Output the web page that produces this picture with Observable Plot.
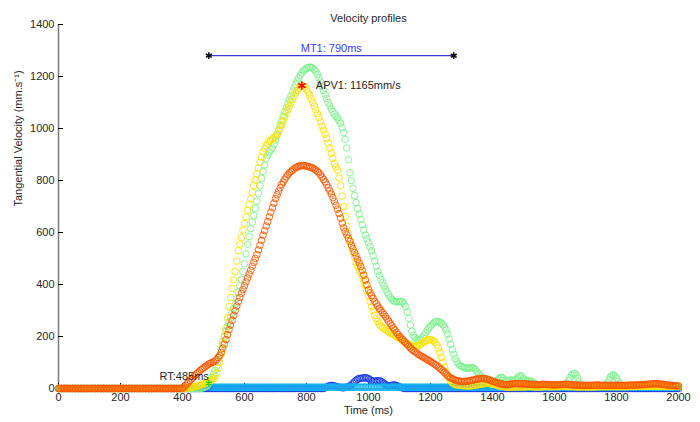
<!DOCTYPE html>
<html>
<head>
<meta charset="utf-8">
<script src="https://cdn.jsdelivr.net/npm/d3@7"></script>
<script src="https://cdn.jsdelivr.net/npm/@observablehq/plot@0.6"></script>
<style>
  html, body { margin: 0; padding: 0; background: #fff; }
</style>
</head>
<body>
<div id="chart"></div>
<script>
// Tangential velocity (mm/s) sampled every 5 ms, 0..2000 ms (401 samples per trial).
const sampleStepMs = 5;
const timeMs = d3.range(0, 2001, sampleStepMs);

const trialOrange = [
  0,0,0,0,0,0,0,0,0,0,0,0,0,0,0,0,0,0,0,0,
  0,0,0,0,0,0,0,0,0,0,0,0,0,0,0,0,0,0,0,0,
  0,0,0,0,0,0,0,0,0,0,0,0,0,0,0,0,0,0,0,0,
  0,0,0,0,0,0,0,0,0,0,0,0,0,0,0,0,0,0,0,0,
  0,6,12,19,25,31,38,44,50,56,61,67,72,77,82,86,90,94,97,100,
  102,106,111,119,128,140,155,170,188,207,226,244,262,281,299,317,334,350,366,381,
  395,410,425,440,455,470,485,500,515,533,551,570,590,607,625,642,660,678,695,713,
  730,745,759,772,785,795,805,814,822,829,835,840,845,849,852,855,856,857,858,857,
  855,854,852,850,848,844,840,835,830,822,813,804,795,784,772,760,748,734,720,705,
  690,673,655,636,618,604,591,578,565,551,537,523,510,496,483,469,455,436,418,399,
  380,368,357,346,335,326,317,308,300,292,284,276,268,259,250,242,233,225,216,208,
  200,194,188,181,175,169,162,156,150,146,141,137,132,128,125,121,118,114,111,107,
  104,100,96,92,88,83,78,73,68,62,56,50,45,41,38,35,32,30,29,28,
  27,27,27,28,28,29,31,32,33,35,36,37,38,38,38,38,37,35,33,30,
  28,26,24,22,20,18,17,16,15,15,15,16,17,18,19,19,19,18,18,18,
  18,18,17,17,16,16,16,15,15,15,15,15,16,16,16,15,15,15,14,14,
  14,14,14,15,15,15,16,16,16,15,15,14,14,13,13,13,13,12,12,12,
  12,12,12,12,12,12,13,13,13,13,12,12,12,12,12,12,12,12,12,12,
  12,12,12,12,12,12,12,12,13,13,13,13,13,14,14,14,15,15,15,16,
  16,17,17,18,18,18,18,18,17,17,16,15,14,13,13,12,12,11,11,10,
  10
];

const trialYellow = [
  0,0,0,0,0,0,0,0,0,0,0,0,0,0,0,0,0,0,0,0,
  0,0,0,0,0,0,0,0,0,0,0,0,0,0,0,0,0,0,0,0,
  0,0,0,0,0,0,0,0,0,0,0,0,0,0,0,0,0,0,0,0,
  0,0,0,0,0,0,0,0,0,0,0,0,0,0,0,0,0,0,0,0,
  0,1,2,2,3,4,5,6,8,9,10,12,15,17,19,21,24,27,30,34,
  38,47,60,78,100,133,170,200,230,272,315,350,385,418,450,490,530,555,580,608,
  635,660,685,708,730,755,780,803,825,848,870,890,910,923,935,943,950,955,960,965,
  970,979,990,1002,1015,1030,1045,1059,1073,1087,1100,1113,1125,1137,1147,1155,1162,1165,1163,1158,
  1150,1140,1128,1114,1100,1086,1072,1057,1042,1026,1010,994,978,962,945,925,905,885,865,852,
  840,810,780,740,700,662,625,597,570,547,525,505,485,470,455,445,433,415,395,375,
  355,335,315,298,282,269,258,248,240,235,230,226,222,218,214,211,208,204,200,196,
  192,188,184,180,176,173,170,167,164,162,162,163,165,168,171,176,180,184,187,188,
  188,186,183,177,168,156,140,120,100,82,65,50,38,29,22,18,15,14,13,12,
  12,11,11,10,10,10,10,11,12,13,14,15,16,17,18,19,20,20,20,19,
  18,16,14,12,10,9,8,7,6,6,5,5,5,5,6,6,6,6,6,6,
  6,6,7,7,7,7,7,6,6,6,6,6,6,7,7,7,7,7,7,7,
  7,7,7,7,8,8,8,8,8,7,7,7,7,7,6,6,6,6,6,6,
  6,6,6,6,6,6,6,7,7,7,7,7,7,7,7,7,7,7,7,7,
  7,7,7,7,7,7,7,8,8,8,8,8,8,9,9,9,9,9,9,9,
  9,9,9,9,9,9,9,9,9,8,8,8,8,8,8,8,8,8,8,8,
  8
];

const trialGreen = [
  0,0,0,0,0,0,0,0,0,0,0,0,0,0,0,0,0,0,0,0,
  0,0,0,0,0,0,0,0,0,0,0,0,0,0,0,0,0,0,0,0,
  0,0,0,0,0,0,0,0,0,0,0,0,0,0,0,0,0,0,0,0,
  0,0,0,0,0,0,0,0,0,0,0,0,0,0,0,0,0,0,0,0,
  0,0,0,0,0,0,0,0,0,0,0,0,1,2,4,7,11,20,30,42,
  55,70,85,104,125,152,180,200,220,238,255,272,290,307,325,347,370,395,420,450,
  480,518,555,585,615,640,665,692,720,750,780,808,835,860,885,898,910,918,925,940,
  955,975,995,1012,1030,1048,1065,1080,1095,1110,1125,1140,1155,1169,1183,1194,1205,1214,1222,1227,
  1232,1234,1236,1235,1233,1227,1220,1208,1195,1179,1162,1146,1130,1115,1100,1087,1075,1065,1055,1047,
  1040,1030,1020,1003,985,958,925,880,830,800,770,742,715,692,670,650,630,610,590,575,
  560,545,530,510,490,470,450,435,420,407,395,382,370,360,350,344,338,335,333,334,
  335,335,333,326,315,295,270,244,220,205,195,189,185,186,190,197,205,215,225,233,
  240,246,252,256,258,257,255,251,245,236,225,209,190,170,150,132,115,104,95,89,
  85,82,80,78,78,79,80,80,78,72,65,57,50,45,40,35,30,25,20,17,
  15,19,25,32,38,42,43,38,32,30,30,31,33,32,30,34,40,46,49,46,
  38,32,28,28,30,28,25,20,15,12,10,9,9,10,11,12,12,12,11,10,
  10,10,10,10,11,12,13,15,20,30,42,52,57,58,52,40,26,16,11,9,
  8,8,8,8,8,8,8,9,9,9,10,11,12,15,22,33,44,50,52,48,
  40,28,18,12,9,8,8,8,8,8,8,8,8,8,8,8,8,8,8,8,
  8,8,8,8,8,8,8,8,8,8,8,8,8,8,8,8,8,8,8,8,
  8
];

const trialBlue = [
  0,0,0,0,0,0,0,0,0,0,0,0,0,0,0,0,0,0,0,0,
  0,0,0,0,0,0,0,0,0,0,0,0,0,0,0,0,0,0,0,0,
  0,0,0,0,0,0,0,0,0,0,0,0,0,0,0,0,0,0,0,0,
  0,0,0,0,0,0,0,0,0,0,0,0,0,0,0,0,0,0,0,0,
  0,0,0,0,0,0,0,0,0,0,0,0,0,0,0,0,0,0,0,0,
  0,0,0,0,0,0,0,0,0,0,0,0,0,0,0,0,0,0,0,0,
  0,0,0,0,0,0,0,0,0,0,0,0,0,0,0,0,0,0,0,0,
  0,0,0,0,0,0,0,0,0,0,0,0,0,0,0,0,0,0,0,0,
  0,0,0,0,0,0,0,0,0,0,0,0,3,6,9,11,12,11,10,8,
  6,5,4,3,3,4,5,7,10,14,20,26,32,36,38,39,40,41,42,40,
  38,34,30,28,28,29,30,30,28,24,20,15,12,10,10,12,14,13,12,9,
  6,4,2,0,0,0,0,0,0,0,0,0,0,0,0,0,0,0,0,0,
  0,0,0,0,0,0,0,0,0,0,0,0,0,0,0,0,0,0,0,0,
  0,0,0,0,0,0,0,0,0,0,0,0,0,0,0,0,0,0,0,0,
  0,0,0,0,0,0,0,0,0,0,0,0,0,0,0,0,0,0,0,0,
  0,0,0,0,0,0,0,0,0,0,0,0,0,0,0,0,0,0,0,0,
  0,0,0,0,0,0,0,0,0,0,0,0,0,0,0,0,0,0,0,0,
  0,0,0,0,0,0,0,0,0,0,0,0,0,0,0,0,0,0,0,0,
  0,0,0,0,0,0,0,0,0,0,0,0,0,0,0,0,0,0,0,0,
  0,0,0,0,0,0,0,0,0,0,0,0,0,0,0,0,0,0,0,0,
  0
];

// This trial has no samples before 490 ms.
const _ = null;
const trialCyan = [
  _,_,_,_,_,_,_,_,_,_,_,_,_,_,_,_,_,_,_,_,
  _,_,_,_,_,_,_,_,_,_,_,_,_,_,_,_,_,_,_,_,
  _,_,_,_,_,_,_,_,_,_,_,_,_,_,_,_,_,_,_,_,
  _,_,_,_,_,_,_,_,_,_,_,_,_,_,_,_,_,_,_,_,
  _,_,_,_,_,_,_,_,_,_,_,_,_,_,_,_,_,_,5,5,
  5,5,5,5,5,5,5,5,5,5,5,5,5,5,5,5,5,5,5,5,
  5,5,5,5,5,5,5,5,5,5,5,5,5,5,5,5,5,5,5,5,
  5,5,5,5,5,5,5,5,5,5,5,5,5,5,5,5,5,5,5,5,
  5,5,5,5,5,5,5,5,5,5,5,5,5,5,5,5,5,5,5,5,
  5,5,5,5,5,5,5,5,5,5,5,5,5,5,5,5,5,5,5,5,
  5,5,5,5,5,5,5,5,5,5,5,5,5,5,5,5,5,5,5,5,
  5,5,5,5,5,5,5,5,5,5,5,5,5,5,5,5,5,5,5,5,
  5,5,5,5,5,5,5,5,5,5,5,5,5,5,5,5,5,5,5,5,
  5,5,5,5,5,5,5,5,5,5,5,5,5,5,5,5,5,5,5,5,
  5,5,5,5,5,5,5,5,5,5,5,5,5,5,5,5,5,5,5,5,
  5,5,5,5,5,5,5,5,5,5,5,5,5,5,5,5,5,5,5,5,
  5,5,5,5,5,5,5,5,5,5,5,5,5,5,5,5,5,5,5,5,
  5,5,5,5,5,5,5,5,5,5,5,5,5,5,5,5,5,5,5,5,
  5,5,5,5,5,5,5,5,5,5,5,5,5,5,5,5,5,5,5,5,
  5,5,5,5,5,5,5,5,5,5,5,5,5,5,5,5,5,5,5,5,
  5
];

// Drawing order: first entry at the bottom.
const trialNames = ["blue", "cyan", "green", "yellow", "orange"];
const trialValues = [trialBlue, trialCyan, trialGreen, trialYellow, trialOrange];
const trialColors = ["#1c3ce6", "#12b4f0", "#7cf08c", "#ffe000", "#ff5500"];

const xTicks = [0, 200, 400, 600, 800, 1000, 1200, 1400, 1600, 1800, 2000];
const yTicks = [0, 200, 400, 600, 800, 1000, 1200, 1400];

// Event markers
const reactionTimeMs = 485;   // RT, onset of the green trial
const movementTimeMs = 790;   // MT1, from RT to end of movement
const movementBarLevel = 1280;
const peakTrial = trialYellow; // APV1 taken from this trial

for (const v of trialValues) {
  if (v.length !== timeMs.length) throw new Error("series length " + v.length + " != " + timeMs.length);
}

// one table per trial, null samples dropped
const trialRows = trialValues.map(vals =>
  vals.map((v, i) => ({t: timeMs[i], v})).filter(d => d.v != null)
);

const peakIndex = d3.maxIndex(peakTrial);
const apv = {t: timeMs[peakIndex], v: peakTrial[peakIndex]};
const rt = {t: reactionTimeMs, v: trialGreen[timeMs.indexOf(reactionTimeMs)]};
const mtEnds = [
  {t: reactionTimeMs, v: movementBarLevel},
  {t: reactionTimeMs + movementTimeMs, v: movementBarLevel}
];

const textColor = "#262626";

const chart = Plot.plot({
  width: 700,
  height: 422,
  marginLeft: 58,
  marginRight: 22,
  marginTop: 24,
  marginBottom: 34,
  style: {fontFamily: "'Liberation Sans', Arial, Helvetica, sans-serif", fontSize: "11px", color: textColor, background: "#fff"},
  x: {domain: [0, 2000]},
  y: {domain: [0, 1400]},
  marks: [
    // axis lines
    Plot.ruleY([0], {stroke: "#808080", strokeWidth: 1}),
    Plot.ruleX([0], {stroke: "#808080", strokeWidth: 1.6}),
    // inward tick marks
    Plot.ruleX(xTicks, {x: d => d, y1: 0, y2: 0, insetTop: -5, stroke: "#000", strokeWidth: 1}),
    Plot.ruleY(yTicks, {y: d => d, x1: 0, x2: 0, insetRight: -5, stroke: "#000", strokeWidth: 1}),
    Plot.axisX({ticks: xTicks, tickSize: 0, tickPadding: 5, tickFormat: d => String(d), label: null, fontSize: 11}),
    Plot.axisY({ticks: yTicks, tickSize: 0, tickPadding: 4, tickFormat: d => String(d), label: null, fontSize: 11}),
    // velocity samples as open circles, one mark per trial
    ...trialRows.map((rows, k) =>
      Plot.dot(rows, {x: "t", y: "v", stroke: trialColors[k], r: 3.3, strokeWidth: 0.9, fill: "none"})
    ),
    // movement time bar
    Plot.line(mtEnds, {x: "t", y: "v", stroke: "#0a0acc", strokeWidth: 1}),
    Plot.dot(mtEnds, {x: "t", y: "v", symbol: "asterisk", r: 3.2, stroke: "#111", strokeWidth: 1.6}),
    Plot.dot(mtEnds, {x: "t", y: "v", r: 1.6, fill: "#111", stroke: "none"}),
    Plot.text([`MT1: ${movementTimeMs}ms`], {x: reactionTimeMs + movementTimeMs / 2, y: movementBarLevel, dy: -7, fill: "#3a3aff", fontSize: 11}),
    // peak velocity
    Plot.dot([apv], {x: "t", y: "v", symbol: "asterisk", r: 4, stroke: "#ff0000", strokeWidth: 1.6}),
    Plot.text([apv], {x: "t", y: "v", text: d => `APV1: ${d.v}mm/s`, textAnchor: "start", dx: 14, fill: textColor, fontSize: 11}),
    // reaction time
    Plot.dot([rt], {x: "t", y: "v", symbol: "asterisk", r: 3, stroke: "#20d020", strokeWidth: 1.4}),
    Plot.text([rt], {x: "t", y: "v", text: d => `RT:${d.t}ms`, textAnchor: "end", dx: 0, dy: -7, fill: textColor, fontSize: 11}),
    // titles
    Plot.text(["Velocity profiles"], {frameAnchor: "top", dy: -10, fill: textColor, fontSize: 11}),
    Plot.text(["Time (ms)"], {frameAnchor: "bottom", dy: 25, fill: textColor, fontSize: 11}),
    Plot.text(["Tangential Velocity (mm.s⁻¹)"], {frameAnchor: "left", dx: -40, rotate: -90, fill: textColor, fontSize: 11})
  ]
});

document.getElementById("chart").appendChild(chart);
</script>
</body>
</html>
